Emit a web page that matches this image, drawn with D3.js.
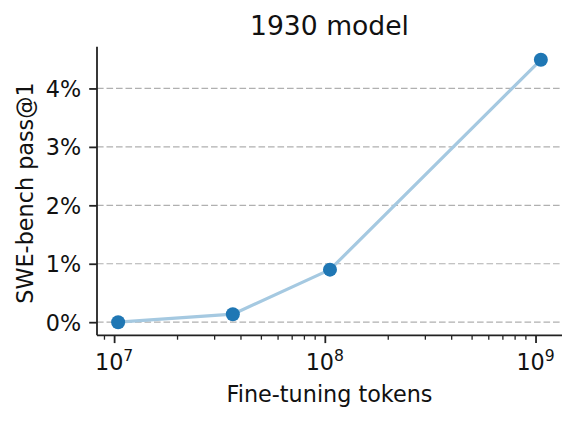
<!DOCTYPE html>
<html><head><meta charset="utf-8">
<script src="https://cdn.jsdelivr.net/npm/d3@7"></script>
<style>
html,body{margin:0;padding:0;background:#fff;}
svg{display:block;font-family:"DejaVu Sans",sans-serif;}
</style></head>
<body>
<svg id="chart" width="577" height="422"></svg>
<script>
const tokens = [1.045e7, 3.66e7, 1.058e8, 1.06e9];
const passAt1 = [0.0, 0.137, 0.899, 4.49];
const yTicks = [0, 1, 2, 3, 4];
const xTicks = [1e7, 1e8, 1e9];
const xTickExp = ["7", "8", "9"];
const title = "1930 model";
const xLabel = "Fine-tuning tokens";
const yLabel = "SWE-bench pass@1";

const svg = d3.select("#chart");
const L = 97, R = 562, T = 46.7, B = 335.3;
const FS = 22.3;

const lx = d3.extent(tokens).map(Math.log10);
const mx = (lx[1]-lx[0])*0.05;
const x = d3.scaleLog().domain([10**(lx[0]-mx), 10**(lx[1]+mx)]).range([L, R]);
const ye = d3.extent(passAt1);
const my = (ye[1]-ye[0])*0.05;
const y = d3.scaleLinear().domain([ye[0]-my, ye[1]+my]).range([B, T]);

// grid
svg.append("g").selectAll("line").data(yTicks).join("line")
  .attr("x1", L).attr("x2", R)
  .attr("y1", d => y(d)).attr("y2", d => y(d))
  .attr("stroke", "#b0b0b0").attr("stroke-width", 1.2)
  .attr("stroke-dasharray", "6.6,2.9");

// line
svg.append("path").datum(tokens.map((t,i)=>[t, passAt1[i]]))
  .attr("fill", "none").attr("stroke", "#a5c9e1").attr("stroke-width", 3.2)
  .attr("stroke-linejoin", "round").attr("stroke-linecap", "round")
  .attr("d", d3.line().x(d => x(d[0])).y(d => y(d[1])));

// markers
svg.append("g").selectAll("circle").data(tokens.map((t,i)=>[t, passAt1[i]])).join("circle")
  .attr("cx", d => x(d[0])).attr("cy", d => y(d[1])).attr("r", 7)
  .attr("fill", "#1f77b4");

// y axis
const yAxis = d3.axisLeft(y).tickValues(yTicks).tickFormat(d => d + "%").tickSize(7.8).tickPadding(8);
const gy = svg.append("g").attr("transform", `translate(${L},0)`).call(yAxis);
gy.attr("font-family", null).attr("font-size", null);
gy.select(".domain").attr("d", `M0,${T}V${B}`).attr("stroke", "#222").attr("stroke-width", 1.8);
gy.selectAll(".tick line").attr("stroke", "#222").attr("stroke-width", 1.8);
gy.selectAll(".tick text").attr("font-size", FS).attr("fill", "#111")
  .attr("font-family", "DejaVu Sans").attr("dy", "0.36em");

// x axis minor ticks
const minor = [];
for (let e = 6; e <= 9; e++) for (let m = 2; m <= 9; m++) {
  const v = m * 10**e;
  if (v >= x.domain()[0] && v <= x.domain()[1]) minor.push(v);
}
const gxm = svg.append("g").attr("transform", `translate(0,${B})`);
gxm.selectAll("line").data(minor).join("line")
  .attr("x1", d => x(d)).attr("x2", d => x(d)).attr("y1", 0).attr("y2", 4.4)
  .attr("stroke", "#222").attr("stroke-width", 1.3);

const xAxis = d3.axisBottom(x).tickValues(xTicks).tickFormat("").tickSize(7.8);
const gx = svg.append("g").attr("transform", `translate(0,${B})`).call(xAxis);
gx.select(".domain").attr("d", `M${L},0H${R}`).attr("stroke", "#222").attr("stroke-width", 1.8);
gx.selectAll(".tick line").attr("stroke", "#222").attr("stroke-width", 1.8);
gx.selectAll(".tick text").remove();
const lbl = svg.append("g").selectAll("text").data(xTicks).join("text")
  .attr("x", d => x(d)).attr("y", 370).attr("text-anchor", "middle")
  .attr("font-size", FS).attr("fill", "#111");
lbl.append("tspan").text("10");
lbl.append("tspan").attr("font-size", 15.6).attr("dy", -9).text((d,i) => xTickExp[i]);

// labels
svg.append("text").attr("x", (L+R)/2).attr("y", 35).attr("text-anchor", "middle")
  .attr("font-size", 26.6).attr("fill", "#111").text(title);
svg.append("text").attr("x", (L+R)/2).attr("y", 401.5).attr("text-anchor", "middle")
  .attr("font-size", FS).attr("fill", "#111").text(xLabel);
svg.append("text").attr("transform", `translate(32.5,${(T+B)/2 + 2}) rotate(-90)`)
  .attr("text-anchor", "middle").attr("font-size", FS).attr("fill", "#111").text(yLabel);
</script>
</body></html>
